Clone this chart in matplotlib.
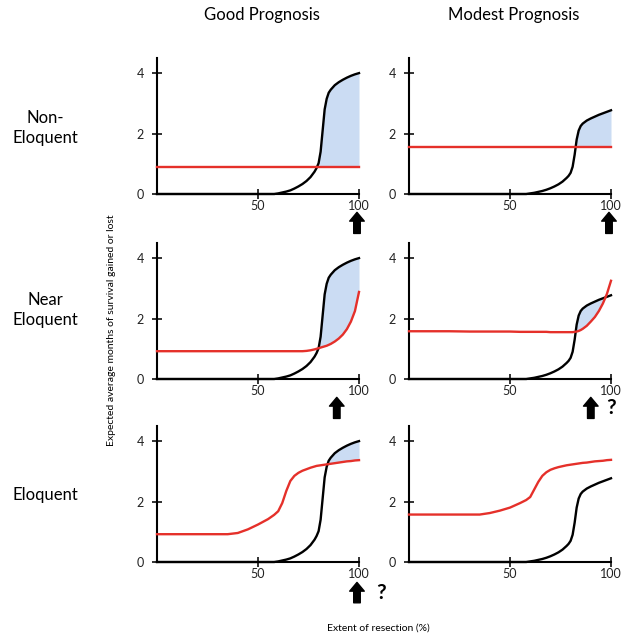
import matplotlib
matplotlib.use("Agg")
import matplotlib.pyplot as plt
import numpy as np

plt.rcParams['font.family'] = ['Lato', 'DejaVu Sans']

# ---- data ----
extent = [0, 10, 20, 30, 35, 40, 45, 50, 55, 58, 60, 62, 64, 66, 68, 70, 72, 74, 76, 78,
          79, 80, 81, 82, 83, 84, 85, 86, 88, 90, 92, 94, 96, 98, 100]

surgery_good = [0, 0, 0, 0, 0, 0, 0, 0, 0, 0, 0.02, 0.05, 0.08, 0.12, 0.18, 0.25, 0.33, 0.43, 0.56, 0.74,
                0.86, 1.02, 1.4, 2.1, 2.8, 3.15, 3.35, 3.45, 3.6, 3.7, 3.78, 3.85, 3.91, 3.96, 4.0]
surgery_modest = [0, 0, 0, 0, 0, 0, 0, 0, 0, 0, 0.02, 0.04, 0.07, 0.1, 0.14, 0.19, 0.25, 0.32, 0.41, 0.53,
                  0.6, 0.7, 0.9, 1.3, 1.8, 2.1, 2.25, 2.33, 2.43, 2.5, 2.56, 2.62, 2.67, 2.72, 2.77]

deficit_nonelo_good = [0.9] * 35
deficit_nonelo_modest = [1.57] * 35
deficit_near_good = [0.92, 0.92, 0.92, 0.92, 0.92, 0.92, 0.92, 0.92, 0.92, 0.92, 0.92, 0.92, 0.92, 0.92, 0.92, 0.92, 0.92, 0.93, 0.95, 0.98,
                     1.0, 1.02, 1.04, 1.06, 1.08, 1.1, 1.13, 1.16, 1.24, 1.34, 1.47, 1.65, 1.9, 2.25, 2.88]
deficit_near_modest = [1.58, 1.58, 1.58, 1.57, 1.57, 1.57, 1.57, 1.57, 1.56, 1.56, 1.56, 1.56, 1.56, 1.56, 1.56, 1.55, 1.55, 1.55, 1.55, 1.55,
                       1.55, 1.55, 1.55, 1.56, 1.57, 1.59, 1.62, 1.66, 1.76, 1.9, 2.05, 2.25, 2.5, 2.82, 3.25]
deficit_elo_good = [0.92, 0.92, 0.92, 0.92, 0.92, 0.96, 1.08, 1.24, 1.42, 1.56, 1.68, 1.95, 2.35, 2.68, 2.85, 2.95, 3.02, 3.07, 3.12, 3.16,
                    3.18, 3.19, 3.2, 3.21, 3.22, 3.23, 3.24, 3.25, 3.27, 3.29, 3.31, 3.33, 3.34, 3.36, 3.37]
deficit_elo_modest = [1.57, 1.57, 1.57, 1.57, 1.57, 1.62, 1.7, 1.8, 1.95, 2.05, 2.15, 2.4, 2.65, 2.85, 2.97, 3.05, 3.1, 3.14, 3.17, 3.2,
                      3.21, 3.22, 3.23, 3.24, 3.25, 3.26, 3.27, 3.28, 3.29, 3.31, 3.33, 3.34, 3.35, 3.37, 3.38]

col_titles = ["Good Prognosis", "Modest Prognosis"]
row_titles = ["Non-\nEloquent", "Near\nEloquent", "Eloquent"]
x_ticks = [50, 100]
y_ticks = [0, 2, 4]

surgery = [surgery_good, surgery_modest]
deficits = [[deficit_nonelo_good, deficit_nonelo_modest],
            [deficit_near_good, deficit_near_modest],
            [deficit_elo_good, deficit_elo_modest]]
# arrow x position (data) and whether a "?" follows, per panel
arrows = [[(99, None), (99, None)],
          [(89, None), (90, 100)],
          [(99, 111), (None, None)]]

RED = '#e5302a'
BLUE = '#cbdcf3'

fig = plt.figure(figsize=(6.29, 6.43), dpi=100)
W, H = 629, 643
col_x = [157, 409]
row_bottom = [194, 379, 562]
ax_w, ax_h = 202, 136

x = np.array(extent)
for r in range(3):
    for c in range(2):
        ax = fig.add_axes([col_x[c] / W, (H - row_bottom[r]) / H, ax_w / W, ax_h / H])
        b = np.array(surgery[c])
        d = np.array(deficits[r][c])
        ax.fill_between(x, d, b, where=b > d, interpolate=True, color=BLUE, lw=0)
        ax.plot(x, b, color='black', lw=1.7, clip_on=False, zorder=3)
        ax.plot(x, d, color=RED, lw=1.7, clip_on=False, zorder=3)
        ax.set_xlim(0, 100)
        ax.set_ylim(0, 4.5)
        for s in ['top', 'right']:
            ax.spines[s].set_visible(False)
        for s in ['left', 'bottom']:
            ax.spines[s].set_linewidth(1.5)
        ax.set_xticks(x_ticks)
        ax.set_yticks(y_ticks)
        ax.tick_params(direction='inout', length=7, width=1.3, labelsize=9, colors='#222222')
        ax.tick_params(axis='x', pad=1)
        ax.tick_params(axis='y', pad=6)
        ax.set_facecolor('none')
        ax_x, q_x = arrows[r][c]
        y_top = -0.135 if r < 2 else -0.15
        y_bot = -0.29 if r < 2 else -0.30
        if ax_x is not None:
            ax.annotate('', xy=(ax_x, y_top), xytext=(ax_x, y_bot),
                        xycoords=ax.get_xaxis_transform(),
                        textcoords=ax.get_xaxis_transform(),
                        arrowprops=dict(arrowstyle='simple,head_length=0.6,head_width=1.0,tail_width=0.45',
                                        fc='black', ec='black', shrinkA=0, shrinkB=0,
                                        mutation_scale=10.5),
                        annotation_clip=False)
        if q_x is not None:
            ax.text(q_x, (y_top + y_bot) / 2, '?', transform=ax.get_xaxis_transform(),
                    ha='center', va='center', fontsize=15, fontweight='bold', clip_on=False)
        if r == 0:
            ax.text(0.52, 1.0 + (58 - 15) / ax_h, col_titles[c], transform=ax.transAxes,
                    ha='center', va='center', fontsize=12)

row_centers = [128, 310, 495]
for r in range(3):
    fig.text(45 / W, 1 - row_centers[r] / H, row_titles[r], ha='center', va='center',
             fontsize=12, linespacing=1.35)

fig.text(112 / W, 1 - 330 / H, "Expected average months of survival gained or lost",
         rotation=90, ha='center', va='center', fontsize=7.5)
fig.text(378 / W, 1 - 628 / H, "Extent of resection (%)", ha='center', va='center', fontsize=7.5)

fig.savefig('out.png', dpi=100)
